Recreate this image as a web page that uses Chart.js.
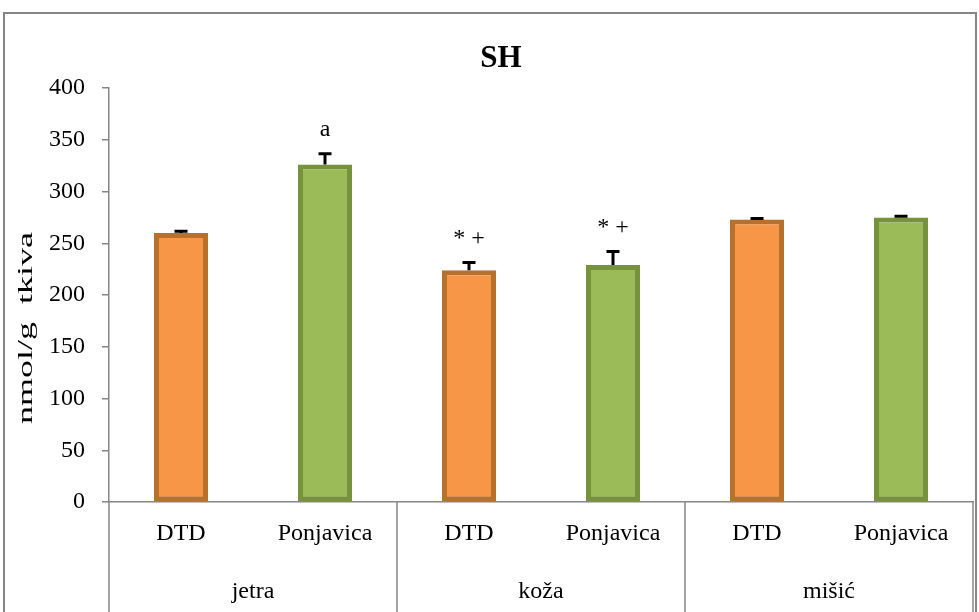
<!DOCTYPE html>
<html>
<head>
<meta charset="utf-8">
<script src="https://cdn.jsdelivr.net/npm/chart.js@4"></script>
<style>
  html, body { margin: 0; padding: 0; background: #fff; }
  #wrap { width: 979px; height: 612px; }
</style>
</head>
<body>
<div id="wrap"><canvas id="grafik" width="979" height="612"></canvas></div>
<script>
// Podaci sa grafika
const kategorije = ['DTD', 'Ponjavica', 'DTD', 'Ponjavica', 'DTD', 'Ponjavica'];
const grupe = ['jetra', 'koža', 'mišić'];
const vrednosti = [260, 326, 224, 229, 273, 275];
const greske = [1.5, 10.5, 7.5, 13, 1, 1];
const oznake = ['', 'a', '* +', '* +', '', ''];
const yTikovi = [0, 50, 100, 150, 200, 250, 300, 350, 400];

const font = '"Liberation Serif", "Times New Roman", serif';
const siva = '#868686';

// Crta greske, oznake, grupe, naslov i naslov ose
const dodaci = {
  id: 'dodaci',
  afterDatasetsDraw(chart) {
    const ctx = chart.ctx;
    const x = chart.scales.x, y = chart.scales.y;
    ctx.save();
    ctx.strokeStyle = '#000';
    ctx.lineWidth = 3;
    vrednosti.forEach((v, i) => {
      const px = x.getPixelForValue(i);
      const y0 = y.getPixelForValue(v);
      const y1 = y.getPixelForValue(v + greske[i]);
      ctx.beginPath();
      ctx.moveTo(px, y0);
      ctx.lineTo(px, y1);
      ctx.moveTo(px - 6.5, y1);
      ctx.lineTo(px + 6.5, y1);
      ctx.stroke();
      if (oznake[i]) {
        ctx.fillStyle = '#000';
        ctx.font = '24px ' + font;
        ctx.textAlign = 'center';
        ctx.textBaseline = 'middle';
        ctx.fillText(oznake[i], px, y1 - 24);
      }
    });
    ctx.restore();
  },
  afterDraw(chart) {
    const ctx = chart.ctx;
    const x = chart.scales.x;
    const a = chart.chartArea;
    ctx.save();
    // granice grupa
    ctx.strokeStyle = siva;
    ctx.lineWidth = 1.5;
    const granice = [a.left];
    for (let g = 1; g < grupe.length; g++) {
      granice.push((x.getPixelForValue(g * 2 - 1) + x.getPixelForValue(g * 2)) / 2);
    }
    granice.push(a.right);
    granice.forEach(gx => {
      ctx.beginPath();
      ctx.moveTo(gx, a.bottom);
      ctx.lineTo(gx, 612);
      ctx.stroke();
    });
    // nazivi grupa
    ctx.fillStyle = '#000';
    ctx.font = '24px ' + font;
    ctx.textAlign = 'center';
    ctx.textBaseline = 'middle';
    grupe.forEach((g, i) => {
      ctx.fillText(g, (granice[i] + granice[i + 1]) / 2, a.bottom + 90);
    });
    // naslov
    ctx.font = 'bold 31px ' + font;
    ctx.fillText('SH', 501, 59);
    // naslov y ose (razvucen kao u originalu)
    ctx.save();
    ctx.translate(27, (a.top + a.bottom) / 2 + 33);
    ctx.rotate(-Math.PI / 2);
    ctx.scale(1.8, 1);
    ctx.font = '20px ' + font;
    ctx.fillText('nmol/g  tkiva', 0, 0);
    ctx.restore();
    // okvir
    ctx.strokeStyle = siva;
    ctx.lineWidth = 2;
    ctx.strokeRect(4, 13, 972, 620);
    ctx.restore();
  }
};

new Chart(document.getElementById('grafik').getContext('2d'), {
  type: 'bar',
  data: {
    labels: kategorije,
    datasets: [{
      data: vrednosti,
      backgroundColor: kategorije.map((k, i) => i % 2 ? '#9BBB59' : '#F79646'),
      borderColor: kategorije.map((k, i) => i % 2 ? '#76923C' : '#B7712F'),
      borderWidth: 5,
      borderSkipped: false,
      categoryPercentage: 1,
      barPercentage: 0.375
    }]
  },
  options: {
    responsive: false,
    animation: false,
    layout: { padding: { left: 0, right: 6, top: 88, bottom: 0 } },
    plugins: {
      legend: { display: false },
      tooltip: { enabled: false },
      title: { display: false }
    },
    scales: {
      x: {
        afterFit: s => { s.height = 110; },
        border: { display: true, color: siva, width: 1.5 },
        grid: { display: true, drawOnChartArea: false, drawTicks: false, color: 'rgba(0,0,0,0)' },
        ticks: { color: '#000', font: { family: font, size: 24 }, padding: 17, maxRotation: 0, autoSkip: false }
      },
      y: {
        min: 0,
        max: 400,
        afterFit: s => { s.width = 109; },
        afterBuildTicks: s => { s.ticks = yTikovi.map(v => ({ value: v })); },
        border: { display: true, color: siva, width: 1.5 },
        grid: { display: true, drawOnChartArea: false, tickLength: 7, color: siva, lineWidth: 1.5 },
        ticks: { color: '#000', font: { family: font, size: 24 }, padding: 17 }
      }
    }
  },
  plugins: [dodaci]
});
</script>
</body>
</html>
